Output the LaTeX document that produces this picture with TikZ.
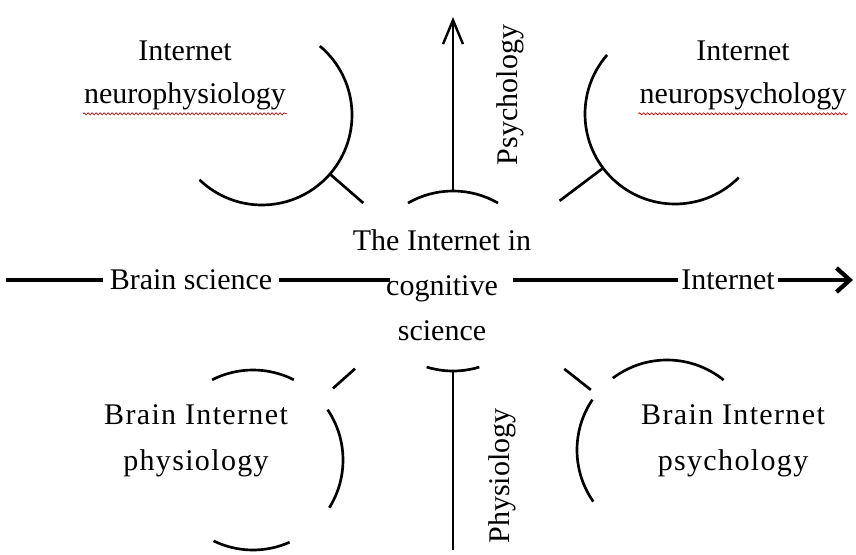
\documentclass[tikz,border=0pt]{standalone}
\usepackage{fontspec}
\setmainfont{Liberation Serif}
\usetikzlibrary{arrows.meta,calc,decorations.pathmorphing}

\begin{document}
\begin{tikzpicture}[x=0.75pt,y=0.75pt,yscale=-1,
	ring/.style={line width=2pt},
	axis/.style={line width=3.2pt},
	lbl/.style={inner sep=0.75pt, align=center, font=\fontsize{22.5}{32.25}\selectfont},
	squig/.style={draw=red!80!black, line width=0.5pt, decorate, decoration={snake, amplitude=0.8pt, segment length=3pt}}]
			\useasboundingbox (0,0) rectangle (856,555);
			
			% circle centres
			\coordinate (cc) at (453,281);
			\coordinate (tlc) at (262,115);
			\coordinate (trc) at (675,114);
			\coordinate (blc) at (253,460);
			\coordinate (brc) at (667,450);
			
			%Arcs: centre circle
			\draw[ring] (cc) ++(240:90) arc[start angle=240, end angle=300, radius=90];
			\draw[ring] (cc) ++(73:90) arc[start angle=73, end angle=107, radius=90];
			%Arcs: top left, top right
			\draw[ring] (tlc) ++(-50:90) arc[start angle=-50, end angle=134, radius=90];
			\draw[ring] (trc) ++(221:90) arc[start angle=221, end angle=45, radius=90];
			%Arcs: bottom left
			\draw[ring] (blc) ++(243:90) arc[start angle=243, end angle=297, radius=90];
			\draw[ring] (blc) ++(-34:90) arc[start angle=-34, end angle=32, radius=90];
			\draw[ring] (blc) ++(66:90) arc[start angle=66, end angle=116, radius=90];
			%Arcs: bottom right
			\draw[ring] (brc) ++(233:90) arc[start angle=233, end angle=309, radius=90];
			\draw[ring] (brc) ++(214:90) arc[start angle=214, end angle=145, radius=90];
			
			%Links to the centre
			\draw[ring] ($(tlc)!0.356!(cc)$) -- ($(tlc)!0.53!(cc)$);
			\draw[ring] ($(trc)!0.325!(cc)$) -- ($(trc)!0.52!(cc)$);
			\draw[ring] ($(blc)!0.40!(cc)$) -- ($(blc)!0.51!(cc)$);
			\draw[ring] ($(brc)!0.356!(cc)$) -- ($(brc)!0.48!(cc)$);
			
			% Text Node
			\node[lbl] (tlbl) at (185,75) {Internet\\neurophysiology};
			% Text Node
			\node[lbl] (trbl) at (743,75) {Internet\\neuropsychology};
			% Text Node
			\node[lbl, font=\fontsize{22.5}{34.5}\selectfont\addfontfeature{LetterSpace=4.5}] (blbl) at (196,441) {Brain Internet\\physiology};
			% Text Node
			\node[lbl, font=\fontsize{22.5}{34.5}\selectfont\addfontfeature{LetterSpace=4.5}] (brbl) at (733,441) {Brain Internet\\psychology};
			% Text Node
			\node[lbl, font=\fontsize{22.5}{33.75}\selectfont] (cog) at (442,285) {The Internet in\\cognitive\\science};
			% Text Node
			\node[lbl, inner xsep=5pt, anchor=base] (bsci) at (191,290) {Brain science};
			% Text Node
			\node[lbl, inner xsep=2pt, anchor=base] (inet) at (728,290) {Internet};
			% Text Node
			\node[lbl, rotate=90] (psy) at (510,95) {Psychology};
			% Text Node
			\node[lbl, rotate=90] (phy) at (502,476) {Physiology};
			
			%spelling marks
			\draw[squig] ($(tlbl.south west)+(0,3)$) -- ($(tlbl.south east)+(0,3)$);
			\draw[squig] ($(trbl.south west)+(0,3)$) -- ($(trbl.south east)+(0,3)$);
			
			%Horizontal axis
			\coordinate (lend) at (6,280);
			\coordinate (rend) at (853,280);
			\coordinate (cl) at (390,280);
			\coordinate (cr) at (513,280);
			\draw[axis] (lend) -- (bsci.west |- lend);
			\draw[axis] (bsci.east |- lend) -- (cl);
			\draw[axis] (cr) -- (inet.west |- rend);
			\draw[axis, -{Straight Barb[length=10pt,width=18pt]}] (inet.east |- rend) -- (rend);
			
			%Vertical axis
			\coordinate (psytop) at (453,17);
			\coordinate (phybot) at (453,550);
			\draw[line width=1.8pt, -{Straight Barb[length=18pt,width=15pt]}] ($(cc)+(0,-90)$) -- (psytop);
			\draw[line width=1.1pt] ($(cc)+(0,90)$) -- (phybot);
			
\end{tikzpicture}
\end{document}
